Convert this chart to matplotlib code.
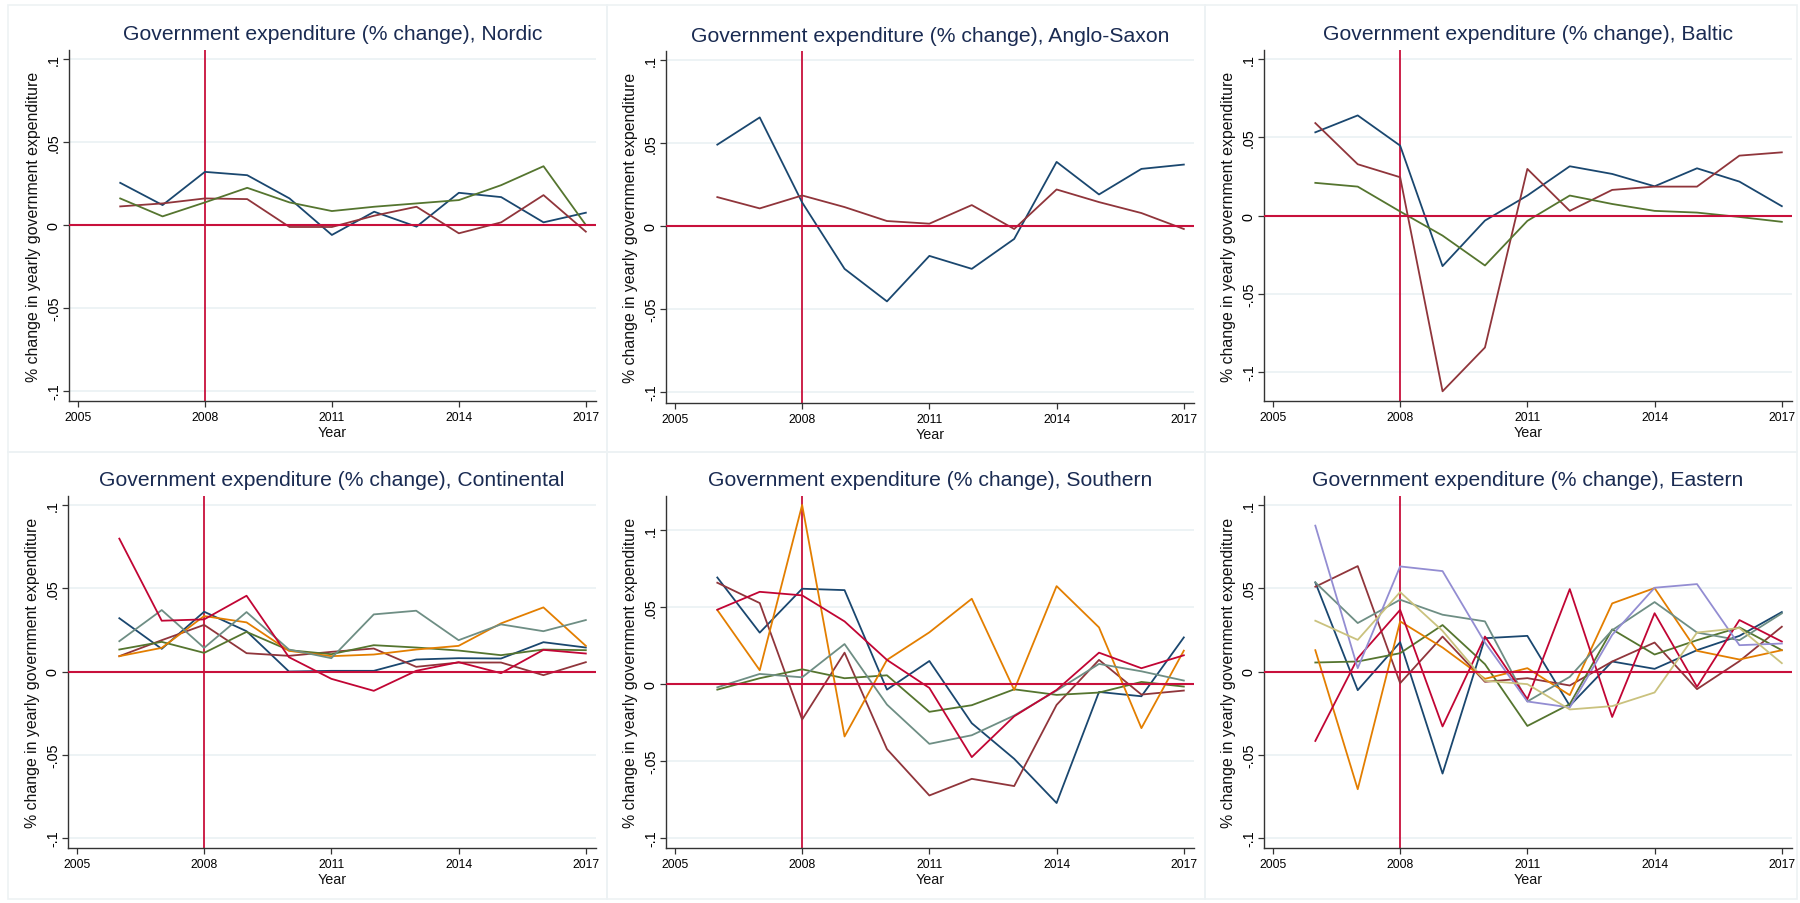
import matplotlib.pyplot as plt
from matplotlib.patches import Rectangle

plt.rcParams['font.family'] = ['Liberation Sans', 'DejaVu Sans']

years = list(range(2006, 2018))

# Stata s2color palette
navy = '#1A476F'
maroon = '#90353B'
green = '#55752F'
orange = '#E37E00'
teal = '#6E8E84'
cranberry = '#C10534'
lavender = '#938DD2'
khaki = '#CAC27E'
refred = '#C8103C'

nordic = {
    navy: [0.0254, 0.012, 0.032, 0.030, 0.016, -0.006, 0.008, -0.001, 0.0194, 0.0168, 0.0016, 0.0074],
    maroon: [0.0112, 0.013, 0.016, 0.0156, -0.0012, -0.0012, 0.0056, 0.011, -0.005, 0.0016, 0.018, -0.004],
    green: [0.016, 0.0052, 0.0136, 0.0224, 0.0136, 0.0084, 0.011, 0.013, 0.015, 0.024, 0.0354, 0.0],
}
anglo = {
    navy: [0.049, 0.0654, 0.0142, -0.0258, -0.0454, -0.018, -0.0258, -0.0078, 0.0386, 0.019, 0.0344, 0.037],
    maroon: [0.0174, 0.0106, 0.0184, 0.0114, 0.003, 0.0014, 0.0126, -0.0018, 0.022, 0.0144, 0.0078, -0.0018],
}
baltic = {
    navy: [0.0532, 0.064, 0.0447, -0.0323, -0.0032, 0.0128, 0.0315, 0.0266, 0.0187, 0.0302, 0.0217, 0.006],
    maroon: [0.0591, 0.0328, 0.0245, -0.1123, -0.0843, 0.0298, 0.003, 0.0164, 0.0185, 0.0185, 0.0383, 0.0404],
    green: [0.0209, 0.0185, 0.0026, -0.0128, -0.0319, -0.0034, 0.0128, 0.0074, 0.003, 0.0019, -0.0009, -0.004],
}
continental = {
    navy: [0.032, 0.0136, 0.0359, 0.0242, 0.0, 0.0004, 0.0004, 0.0072, 0.008, 0.0078, 0.0176, 0.0144],
    maroon: [0.0092, 0.0188, 0.028, 0.011, 0.0094, 0.0118, 0.0138, 0.0028, 0.0054, 0.0054, -0.0022, 0.0056],
    green: [0.0132, 0.0178, 0.0112, 0.0238, 0.0128, 0.0104, 0.0158, 0.0144, 0.0126, 0.0098, 0.0132, 0.0128],
    orange: [0.0092, 0.0142, 0.0333, 0.0295, 0.0124, 0.0092, 0.0102, 0.0132, 0.0154, 0.0289, 0.0385, 0.0154],
    teal: [0.0182, 0.0369, 0.0142, 0.0357, 0.0132, 0.008, 0.0343, 0.0365, 0.0188, 0.0283, 0.0242, 0.0309],
    cranberry: [0.0798, 0.0305, 0.0313, 0.0455, 0.0086, -0.0044, -0.0116, 0.0004, 0.0056, -0.001, 0.013, 0.0108],
}
southern = {
    navy: [0.0691, 0.0333, 0.0618, 0.0609, -0.0037, 0.0149, -0.0255, -0.0486, -0.0773, -0.0052, -0.008, 0.0302],
    maroon: [0.0657, 0.0525, -0.0231, 0.0203, -0.0423, -0.0724, -0.0616, -0.0663, -0.0136, 0.0156, -0.0069, -0.0043],
    green: [-0.0037, 0.0037, 0.0095, 0.0037, 0.0056, -0.0181, -0.0138, -0.0035, -0.0071, -0.0056, 0.0013, -0.0017],
    orange: [0.048, 0.0089, 0.1162, -0.0341, 0.0156, 0.0335, 0.0553, -0.0039, 0.0635, 0.0367, -0.0287, 0.0216],
    teal: [-0.0022, 0.0065, 0.0043, 0.0259, -0.0134, -0.0389, -0.0333, -0.0205, -0.0043, 0.013, 0.0082, 0.0022],
    cranberry: [0.0482, 0.0598, 0.0575, 0.0406, 0.0156, -0.0026, -0.0475, -0.021, -0.0039, 0.0203, 0.0102, 0.0186],
}
eastern = {
    navy: [0.0535, -0.0112, 0.0176, -0.0613, 0.02, 0.0214, -0.0206, 0.006, 0.0016, 0.0128, 0.0214, 0.0357],
    maroon: [0.0509, 0.0633, -0.007, 0.021, -0.0062, -0.004, -0.0084, 0.006, 0.0174, -0.0106, 0.0062, 0.0269],
    green: [0.0054, 0.006, 0.011, 0.0279, 0.0044, -0.0327, -0.0196, 0.0253, 0.0102, 0.0188, 0.0265, 0.0128],
    orange: [0.0128, -0.0707, 0.0301, 0.0144, -0.0044, 0.002, -0.0142, 0.0409, 0.0501, 0.0124, 0.0072, 0.0128],
    teal: [0.0535, 0.0291, 0.0431, 0.0341, 0.0301, -0.018, -0.0032, 0.0248, 0.0417, 0.0234, 0.0188, 0.0349],
    cranberry: [-0.0417, 0.008, 0.037, -0.033, 0.021, -0.0166, 0.0495, -0.0273, 0.035, -0.0092, 0.0309, 0.018],
    lavender: [0.0876, 0.002, 0.0631, 0.0603, 0.0174, -0.018, -0.0216, 0.022, 0.0503, 0.0525, 0.0158, 0.0168],
    khaki: [0.0305, 0.019, 0.0477, 0.0244, -0.0056, -0.0076, -0.0228, -0.0208, -0.0126, 0.0234, 0.0261, 0.005],
}

regions = ['Nordic', 'Anglo-Saxon', 'Baltic', 'Continental', 'Southern', 'Eastern']
series = [nordic, anglo, baltic, continental, southern, eastern]
ylims = [(-0.106, 0.1054), (-0.1066, 0.1054), (-0.1185, 0.1058),
         (-0.106, 0.1054), (-0.1065, 0.122), (-0.106, 0.1054)]
yticks = [-0.1, -0.05, 0, 0.05, 0.1]
ytick_labels = ['-.1', '-.05', '0', '.05', '.1']
xticks = [2005, 2008, 2011, 2014, 2017]

W, H = 1800, 904
fig = plt.figure(figsize=(W / 100, H / 100), dpi=100)
fig.patch.set_facecolor('white')

# axes boxes in pixels: left, top, right, bottom
boxes = [(69, 51, 596, 402), (666, 52, 1194, 404), (1264, 51, 1792, 402),
         (68, 497, 596, 849), (666, 497, 1194, 849), (1264, 497, 1792, 849)]
frames = [(8, 6, 607, 453), (607, 6, 1205, 453), (1205, 6, 1797, 453),
          (8, 453, 607, 900), (607, 453, 1205, 900), (1205, 453, 1797, 900)]

for fr in frames:
    x0, y0, x1, y1 = fr
    fig.add_artist(Rectangle((x0 / W, 1 - y1 / H), (x1 - x0) / W, (y1 - y0) / H,
                             transform=fig.transFigure, fill=False,
                             edgecolor='#edf2f4', lw=1.2))

for i, name in enumerate(regions):
    l, t, r, b = boxes[i]
    ax = fig.add_axes([l / W, 1 - b / H, (r - l) / W, (b - t) / H])
    ax.set_xlim(2004.79, 2017.24)
    ax.set_ylim(*ylims[i])
    for y in yticks:
        ax.axhline(y, color='#eaf1f3', lw=1.2, zorder=0)
    ax.axvline(2008, color=refred, lw=1.3, zorder=1)
    for col, vals in series[i].items():
        ax.plot(years, vals, color=col, lw=1.3, zorder=2)
    ax.axhline(0, color=refred, lw=1.5, zorder=3)

    ax.set_xticks(xticks)
    ax.set_xticklabels([str(x) for x in xticks], fontsize=8.7)
    ax.set_yticks(yticks)
    ax.set_yticklabels(ytick_labels, fontsize=10.4, rotation=90, va='center')
    ax.tick_params(axis='both', length=4.3, width=0.9, color='#333333')
    ax.tick_params(axis='x', pad=3)
    ax.tick_params(axis='y', pad=1.5)
    for s in ['top', 'right']:
        ax.spines[s].set_visible(False)
    for s in ['left', 'bottom']:
        ax.spines[s].set_color('#333333')
        ax.spines[s].set_linewidth(1.0)

    cx = (l + r) / 2
    fig.text(cx / W, 1 - (t - 16) / H, 'Government expenditure (% change), ' + name,
             ha='center', va='center', fontsize=15.2, color='#1A2B52')
    fig.text((l - 35) / W, 1 - ((t + b) / 2) / H, '% change in yearly government expenditure',
             ha='center', va='center', rotation=90, fontsize=11.4, color='#111111')
    fig.text(cx / W, 1 - (b + 31) / H, 'Year', ha='center', va='center',
             fontsize=10.4, color='#111111')

fig.savefig('out.png', dpi=100, facecolor='white')
